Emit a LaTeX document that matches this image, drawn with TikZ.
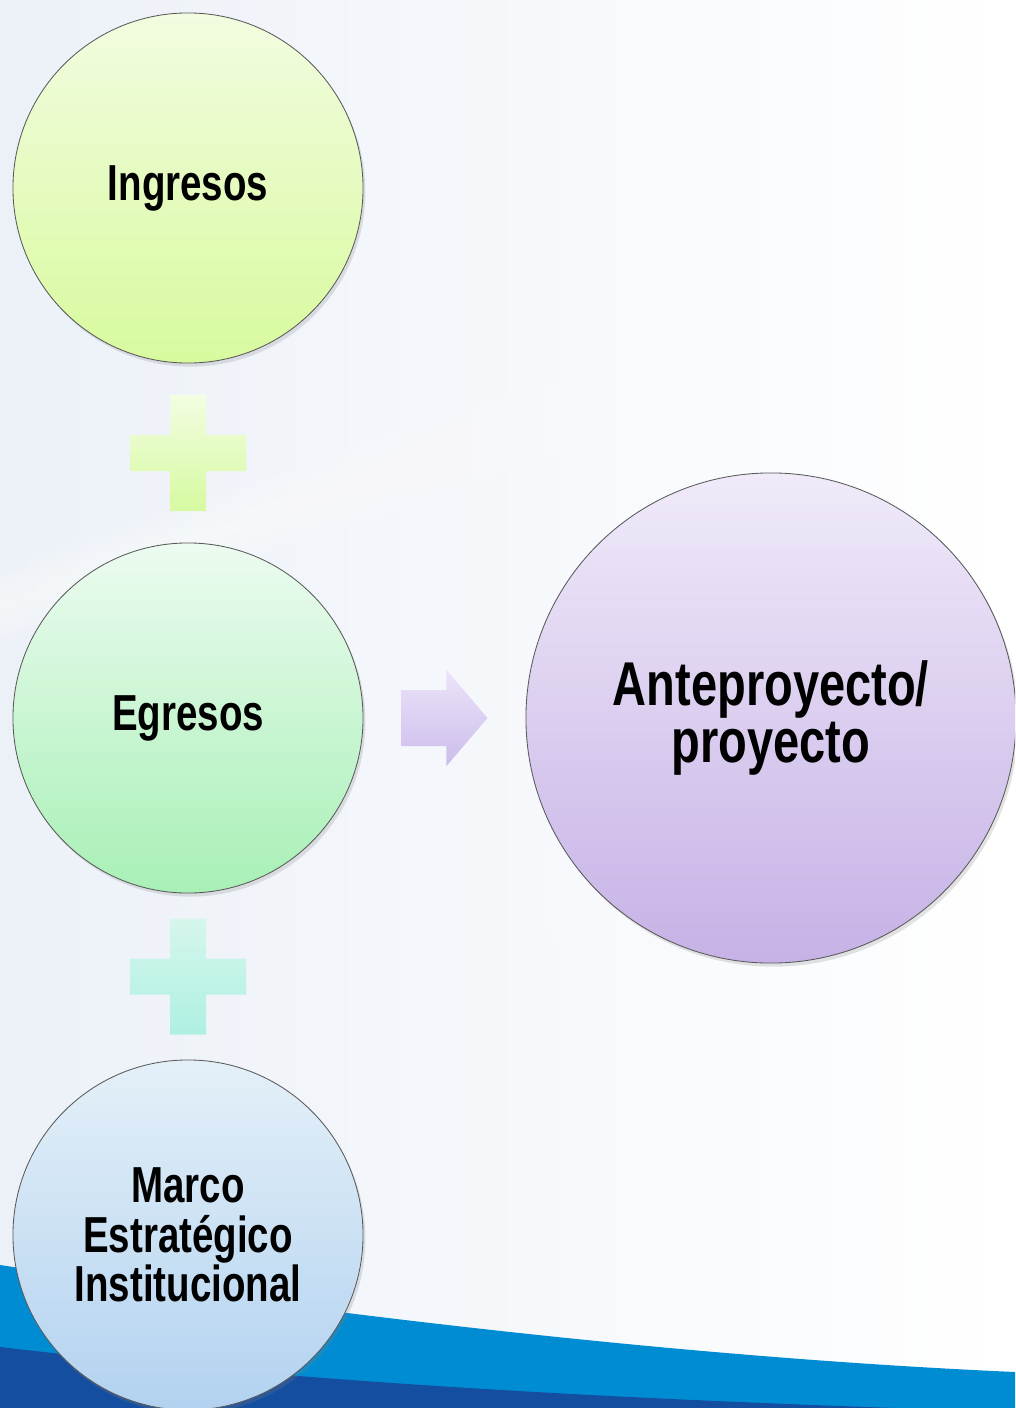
\documentclass[tikz,border=0pt]{standalone}
\usepackage{fontspec}
\newfontfamily\narrowsans[FakeStretch=0.76]{Liberation Sans}
\usetikzlibrary{calc,shadows}
\definecolor{bgtint}{RGB}{236,241,248}
\definecolor{bandlight}{RGB}{0,140,210}
\definecolor{banddark}{RGB}{20,78,160}
\definecolor{ingtop}{RGB}{242,252,224}
\definecolor{ingbot}{RGB}{216,250,158}
\definecolor{egrtop}{RGB}{236,251,240}
\definecolor{egrbot}{RGB}{168,240,182}
\definecolor{martop}{RGB}{228,240,248}
\definecolor{marbot}{RGB}{178,210,240}
\definecolor{anttop}{RGB}{240,234,249}
\definecolor{antbot}{RGB}{198,178,230}
\definecolor{plusatop}{RGB}{242,253,226}
\definecolor{plusabot}{RGB}{214,250,160}
\definecolor{plusbtop}{RGB}{214,246,236}
\definecolor{plusbbot}{RGB}{174,240,226}
\definecolor{arrtop}{RGB}{236,228,249}
\definecolor{arrbot}{RGB}{204,188,236}
\begin{document}
\begin{tikzpicture}[
        x=0.025cm,
        y=-0.025cm,
        font=\narrowsans\bfseries
    ]
    \tikzset{
        bubble/.style = {circle, draw=black!65, line width=0.6pt, inner sep=0pt,
            align=center, minimum size=8.75cm, font=\narrowsans\bfseries\fontsize{36}{35}\selectfont,
            drop shadow={opacity=0.22, shadow xshift=0.6mm, shadow yshift=-0.9mm}},
        bigbubble/.style = {bubble, minimum size=12.25cm, font=\narrowsans\bfseries\fontsize{44}{40.5}\selectfont},
        softshape/.style = {draw=none, drop shadow={opacity=0.2, shadow xshift=0.5mm, shadow yshift=-0.7mm}},
        streak/.style = {white, opacity=0.12, line cap=round},
        plussign/.pic = {
            \path[pic actions] (-18,-58) -- (18,-58) -- (18,-18) -- (58,-18) -- (58,18) -- (18,18)
                -- (18,58) -- (-18,58) -- (-18,18) -- (-58,18) -- (-58,-18) -- (-18,-18) -- cycle;
        },
        blockarrow/.pic = {
            \path[pic actions] (-43,-28) -- (2,-28) -- (2,-48) -- (43,0) -- (2,48) -- (2,28) -- (-43,28) -- cycle;
        },
    }
    \useasboundingbox (0,0) rectangle (1015,1408);
    \clip (0,0) rectangle (1015,1408);
    % background
    \fill[left color=bgtint, right color=white] (0,0) rectangle (1015,1408);
    \foreach \w in {10,25,40,55,70} {
        \draw[streak, line width=\w*0.025cm] (-40,620) .. controls (300,510) and (650,370) .. (1060,280);
        \draw[streak, line width=\w*0.025cm] (560,880) .. controls (650,1030) and (720,1170) .. (800,1330);
    }
    \fill[bandlight] (0,1265) .. controls (350,1318) and (700,1358) .. (1015,1372)
        -- (1015,1420) -- (0,1420) -- cycle;
    \fill[banddark] (0,1347) .. controls (350,1388) and (700,1402) .. (1015,1412)
        -- (1015,1420) -- (0,1420) -- cycle;
    % circles
    \node[bubble, top color=ingtop, bottom color=ingbot] at (188,188) (ingresos) {Ingresos};
    \node[bubble, top color=egrtop, bottom color=egrbot] at (188,718) (egresos) {Egresos};
    \node[bubble, top color=martop, bottom color=marbot] at (188,1235) (marco) {Marco\\Estratégico\\Institucional};
    \node[bigbubble, top color=anttop, bottom color=antbot] at (771,718) (antep) {Anteproyecto/\\proyecto};
    %
    \coordinate (plusa) at ($(ingresos)!0.5!(egresos)$);
    \coordinate (plusb) at ($(egresos)!0.5!(marco)$);
    \coordinate (arrowmid) at ($(egresos.east)!0.5!(antep.west)$);
    \pic[softshape, top color=plusatop, bottom color=plusabot] at (plusa) {plussign};
    \pic[softshape, top color=plusbtop, bottom color=plusbbot] at (plusb) {plussign};
    \pic[softshape, top color=arrtop, bottom color=arrbot] at (arrowmid) {blockarrow};
\end{tikzpicture}
\end{document}
